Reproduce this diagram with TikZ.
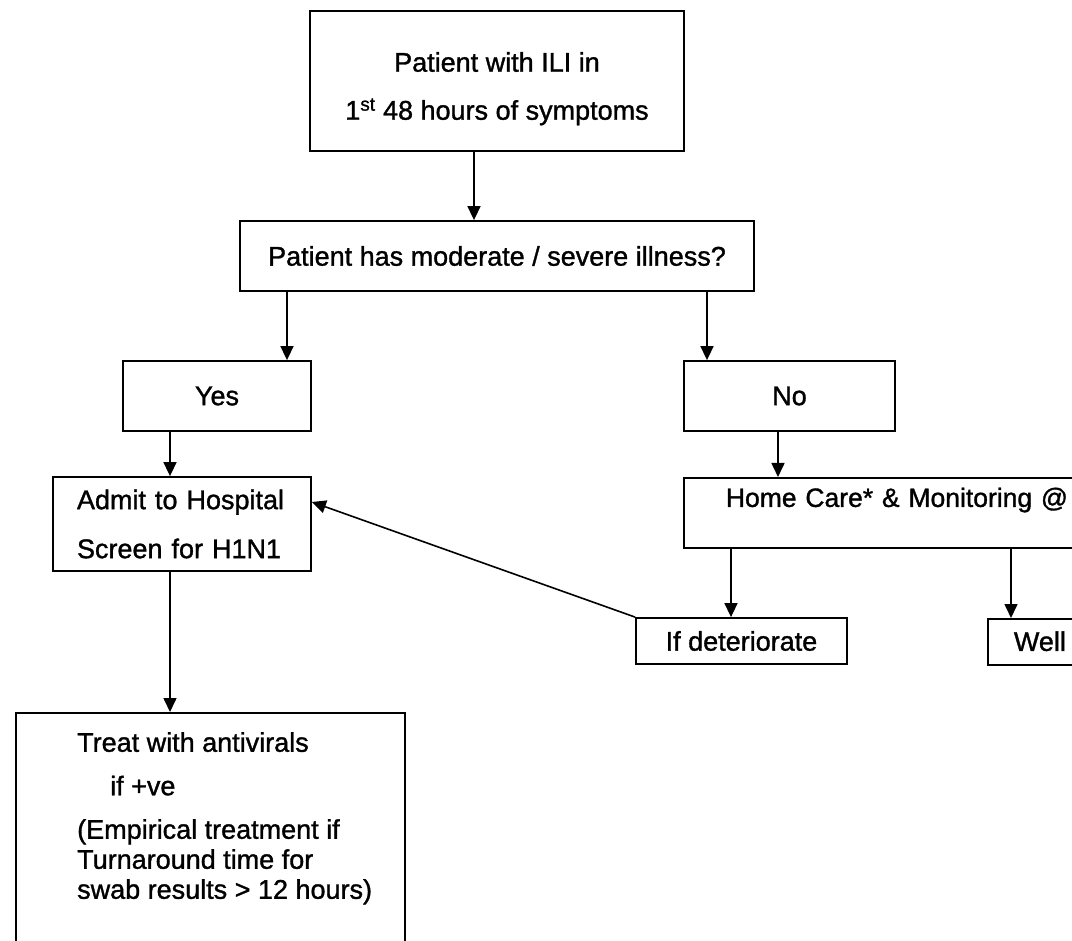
\documentclass[tikz,border=0pt]{standalone}
\usepackage{fontspec}
\setmainfont{Liberation Sans}[FakeBold=1.2]
\usetikzlibrary{arrows.meta}

\begin{document}
\begin{tikzpicture}[x=1pt, y=1pt,
        every node/.style={font=\fontsize{27}{32}\selectfont},
        box/.style={draw, line width=1.8pt, inner sep=0pt},
        arr/.style={line width=1.6pt, -{Triangle[length=14pt, width=13pt]}}]
        % Page
        \useasboundingbox (0,0) rectangle (1072,-941);
        \clip (0,0) rectangle (1072,-941);

        % Boxes
        \node[box, minimum width=374pt, minimum height=140pt, align=center,
              font=\fontsize{27}{48}\selectfont] (ili) at (497,-81)
              {\rule{0pt}{35pt}Patient with ILI in\\1\textsuperscript{st} 48 hours of symptoms};
        \node[box, minimum width=514pt, minimum height=70pt] (q) at (497,-256)
              {Patient has moderate / severe illness?};
        \node[box, minimum width=188pt, minimum height=70pt] (yes) at (217,-396) {Yes};
        \node[box, minimum width=211pt, minimum height=70pt] (no) at (789.5,-396) {No};
        \node[box, minimum height=94pt, inner xsep=24pt, text width=210pt, align=left,
              font=\fontsize{27}{49}\selectfont] (admit) at (182,-524)
              {Admit to Hospital\\Screen for H1N1};
        \node[box, anchor=north west, inner xsep=42pt, text width=360pt, align=left,
              text height=29pt, text depth=41pt, font=\fontsize{26.5}{32}\selectfont] (home)
              at (683,-477) {Home Care* \& Monitoring @};
        \node[box, minimum width=211pt, minimum height=46pt] (ifdet) at (741.5,-641)
              {If deteriorate};
        \node[box, anchor=north west, inner xsep=26pt, text width=120pt, align=left,
              text height=32pt, text depth=14pt] (well) at (987,-618) {Well};
        \node[box, anchor=north west, minimum width=389pt, minimum height=260pt] (treat)
              at (15,-712) {};
        \node[anchor=north west, align=left, inner sep=0pt,
              font=\fontsize{27}{30}\selectfont] (treattext) at (77,-732)
              {Treat with antivirals\\[13.5pt]
               \hspace*{33pt}if +ve\\[13.5pt]
               (Empirical treatment if\\Turnaround time for\\swab results > 12 hours)};

        % Arrows
        \draw[arr] ([xshift=-23pt]ili.south) -- ([xshift=-23pt]q.north);
        \draw[arr] ([xshift=70pt]yes.north |- q.south) -- ([xshift=70pt]yes.north);
        \draw[arr] ([xshift=-82.5pt]no.north |- q.south) -- ([xshift=-82.5pt]no.north);
        \draw[arr] ([xshift=-12pt]admit.north |- yes.south) -- ([xshift=-12pt]admit.north);
        \draw[arr] ([xshift=-11.5pt]no.south) -- ([xshift=-11.5pt]no.south |- home.north);
        \draw[arr] ([xshift=-10.5pt]ifdet.north |- home.south) -- ([xshift=-10.5pt]ifdet.north);
        \draw[arr] ([xshift=24pt]well.north west |- home.south) -- ([xshift=24pt]well.north west);
        \draw[arr] (ifdet.north west) -- ([yshift=22pt]admit.east);
        \draw[arr] ([xshift=-12pt]admit.south) -- ([xshift=-12pt]admit.south |- treat.north);
\end{tikzpicture}
\end{document}
